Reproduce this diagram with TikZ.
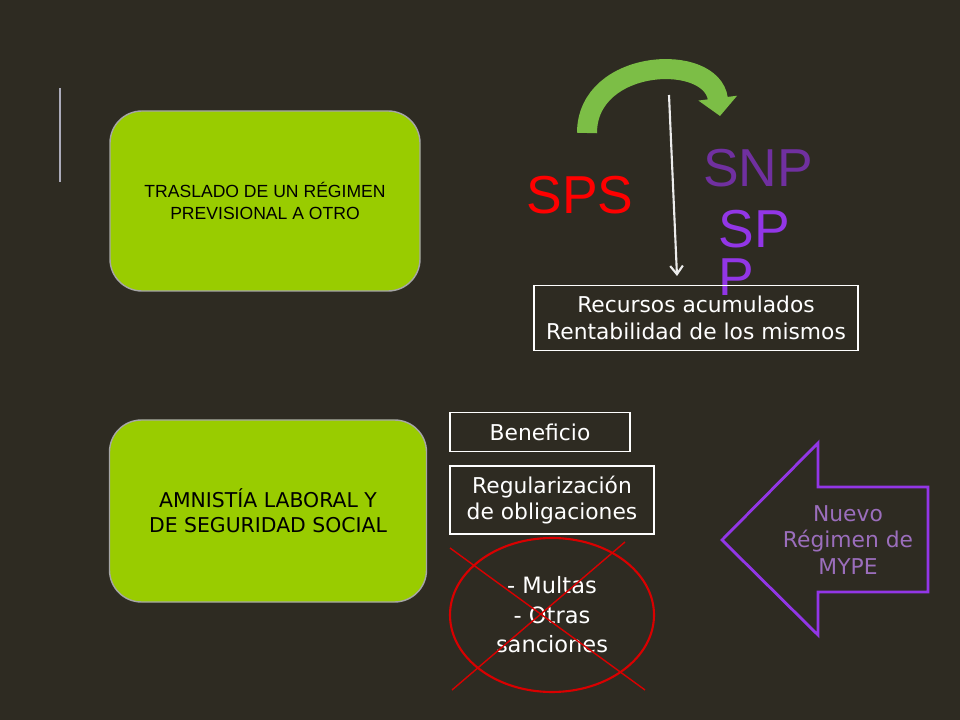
\documentclass[tikz,border=0pt]{standalone}
\usepackage{fontspec}
\setmainfont{Liberation Sans}
\newfontfamily\gothic{DejaVu Sans}
\usetikzlibrary{positioning, arrows.meta, shapes.geometric}
\definecolor{bgdark}{RGB}{46,43,34}
\definecolor{mylime}{RGB}{153,204,0}
\definecolor{myarrow}{RGB}{124,190,70}
\definecolor{mypurple}{RGB}{112,48,160}
\definecolor{myviolet}{RGB}{146,54,230}
\tikzset{
  greenbox/.style={rectangle, draw=gray!70, line width=1pt, fill=mylime, rounded corners=0.8cm, align=center, text=black},
  whitebox/.style={rectangle, draw=white, line width=0.8pt, text=white, align=center, font=\gothic\fontsize{15.5}{19}\selectfont, inner sep=3pt},
  bigtxt/.style={font=\fontsize{38}{38}\selectfont}
}
\begin{document}
\begin{tikzpicture}[x=0.025cm, y=-0.025cm]
        \useasboundingbox (0,0) rectangle (960,720);
        \fill[bgdark] (0,0) rectangle (960,720);
        % side bar
        \draw[line width=1pt, color=blue!10!gray!60] (60,88) -- (60,182);

        % green boxes
        \node [greenbox, minimum width=310*0.025cm, minimum height=180*0.025cm, font=\fontsize{12.5}{15}\selectfont] (traslado) at (265,201) {TRASLADO DE UN RÉGIMEN\\PREVISIONAL A OTRO};
        \node [greenbox, minimum width=317*0.025cm, minimum height=182*0.025cm, font=\gothic\fontsize{14.5}{18}\selectfont] (amnistia) at (268,511) {AMNISTÍA LABORAL  Y\\DE SEGURIDAD SOCIAL};

        % regimes
        \node [bigtxt, text=red] (sps) at (580,195) {SPS};
        \node [bigtxt, text=mypurple] (snp) at (758,168) {SNP};
        \node [bigtxt, text=myviolet, align=left, anchor=north west] (spp) at (714,205) {SP\\[-4pt]P};

        % curved arrow and thin arrow
        \coordinate (arcstart) at (587,133);
        \coordinate (arcend) at (720,116);
        \draw[myarrow, line width=0.5cm, -{Triangle[length=0.45cm, width=0.95cm]}] (arcstart) .. controls (587,58) and (712,52) .. (arcend);
        \coordinate (lnstart) at (669,95);
        \node [whitebox, minimum width=324*0.025cm, minimum height=65*0.025cm] (recursos) at (696,318) {Recursos acumulados\\Rentabilidad de los mismos};
        \draw[white!85!gray, line width=1.5pt, -{Straight Barb[length=6pt, width=9pt]}] (lnstart) -- (677,276);

        % amnesty items
        \node [whitebox, minimum width=180*0.025cm, minimum height=39*0.025cm] (beneficio) at (540,432) {Beneficio};
        \node [whitebox, minimum width=204*0.025cm, minimum height=68*0.025cm] (regul) at (552,500) {Regularización\\de obligaciones};
        \node [ellipse, draw=red!85!black, line width=1.5pt, minimum width=204*0.025cm, minimum height=154*0.025cm, text=white, align=center, font=\gothic\fontsize{16}{21}\selectfont] (multas) at (552,615) {- Multas\\- Otras\\sanciones};
        \coordinate (xa) at (450,548);
        \coordinate (xb) at (645,690);
        \coordinate (xc) at (625,542);
        \coordinate (xd) at (452,690);
        \draw[red!85!black, line width=1pt] (xa) -- (xb) (xc) -- (xd);

        % MYPE arrow
        \draw[myviolet, line width=2pt, fill=bgdark] (722,540) -- (818,443) -- (818,487) -- (928,487) -- (928,592) -- (818,592) -- (818,635) -- cycle;
        \node [text=mypurple!70!white, align=center, font=\gothic\fontsize{15.5}{19}\selectfont] (mype) at (848,540) {Nuevo\\Régimen de\\MYPE};
\end{tikzpicture}
\end{document}
